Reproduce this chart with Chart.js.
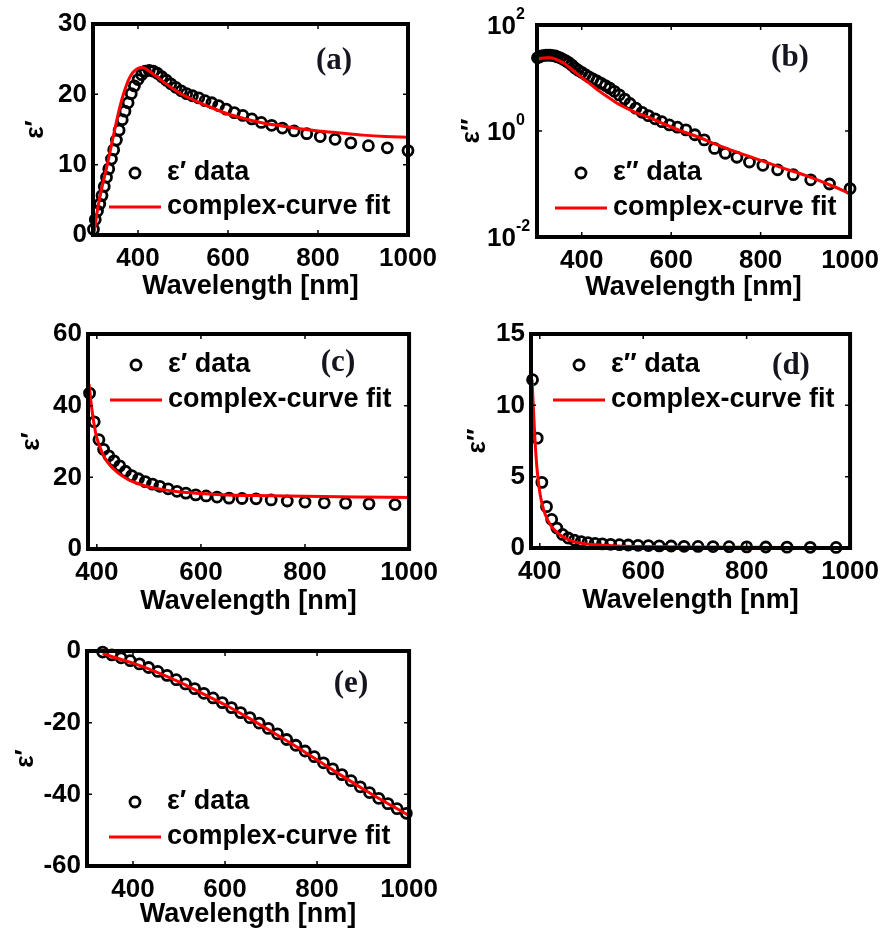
<!DOCTYPE html>
<html>
<head>
<meta charset="utf-8">
<script src="https://cdn.jsdelivr.net/npm/chart.js@4.4.1/dist/chart.umd.min.js"></script>
<style>
  html, body { margin: 0; padding: 0; background: #fff; }
  body { width: 887px; height: 934px; position: relative; overflow: hidden; }
  canvas { position: absolute; }
</style>
</head>
<body>
<canvas id="panel-a" width="446" height="305" style="left:0;top:0"></canvas>
<canvas id="panel-b" width="441" height="305" style="left:446px;top:0"></canvas>
<canvas id="panel-c" width="446" height="320" style="left:0;top:305px"></canvas>
<canvas id="panel-d" width="441" height="320" style="left:446px;top:305px"></canvas>
<canvas id="panel-e" width="446" height="309" style="left:0;top:625px"></canvas>
<script>
// ---- measured permittivity (circles) and fitted curves (red lines) ----

// panels (a) and (b): wavelength grid of the measured data [nm]
const wlAB = [301, 305, 310, 315, 320, 325, 330, 335, 341, 346,
              352, 358, 365, 371, 378, 385, 392, 400, 408, 416,
              425, 434, 443, 453, 463, 473, 484, 496, 508, 521,
              535, 549, 564, 579, 596, 614, 633, 653, 674, 697,
              721, 747, 775, 805, 838, 873, 912, 954, 1000];
const epsRealA = [0.8, 2.2, 3.4, 4.4, 5.6, 6.9, 8.2, 9.4, 10.8, 12.1,
                  13.5, 14.9, 16.4, 17.6, 18.8, 20.1, 21.2, 22.1, 22.8, 23.3,
                  23.4, 23.3, 23.0, 22.5, 22.0, 21.5, 21.0, 20.5, 20.1, 19.8,
                  19.5, 19.1, 18.8, 18.4, 17.9, 17.4, 17.0, 16.5, 16.0, 15.6,
                  15.2, 14.8, 14.4, 14.0, 13.6, 13.1, 12.7, 12.4, 12.0];
const fitWlA = [303, 310, 320, 330, 340, 350, 360, 370, 380, 390, 400, 410, 420, 440, 460,
                480, 500, 530, 560, 600, 640, 680, 720, 760, 800, 850, 900, 950, 1000];
const fitRealA = [0.5, 3.6, 6.8, 9.5, 12.5, 15.5, 18.3, 20.5, 22.2, 23.2, 23.7, 23.8, 23.5, 22.6, 21.6,
                  20.7, 19.9, 19.0, 18.2, 17.2, 16.5, 15.9, 15.5, 15.1, 14.8, 14.5, 14.2, 14.0, 13.9];

const epsImagB = [24, 25, 26, 26.5, 27, 27, 27, 26.5, 26, 25,
                  24, 22.5, 21, 19.5, 17.5, 15.5, 14, 12.8, 11.6, 10.5,
                  9.6, 8.8, 8.0, 7.2, 6.4, 5.6, 4.8, 4.0, 3.3, 2.7,
                  2.25, 1.95, 1.7, 1.5, 1.3, 1.18, 1.05, 0.85, 0.68, 0.47,
                  0.38, 0.32, 0.26, 0.225, 0.185, 0.15, 0.12, 0.1, 0.082];
const fitWlB = [300, 310, 320, 330, 340, 350, 360, 370, 380, 390, 400, 420, 440, 460,
                480, 500, 520, 550, 580, 620, 660, 700, 750, 800, 850, 900, 950, 1000];
const fitImagB = [22.5, 23.5, 24, 24, 23, 21, 19, 16.5, 14, 12, 10.3, 7.6, 5.6, 4.3,
                  3.3, 2.7, 2.25, 1.8, 1.4, 1.02, 0.77, 0.56, 0.39, 0.28, 0.2, 0.145, 0.1, 0.066];

// panels (c) and (d)
const wlCD = [386, 395, 404, 413, 423, 433, 444, 455, 467, 480,
              493, 507, 521, 537, 554, 571, 590, 610, 631, 654,
              679, 706, 735, 766, 800, 837, 878, 923, 973];
const epsRealC = [43.5, 35.5, 30.5, 27.8, 26.0, 24.6, 23.2, 21.7, 20.5, 19.6,
                  18.8, 18.1, 17.5, 16.8, 16.1, 15.6, 15.1, 14.8, 14.5, 14.2,
                  14.1, 14.0, 13.7, 13.4, 13.1, 12.9, 12.8, 12.6, 12.4];
const fitWlC = [385, 390, 395, 400, 410, 420, 440, 460, 480, 500, 530, 560, 600, 650, 700, 800, 900, 1000];
const fitRealC = [46, 39.5, 34.5, 31, 27, 24.3, 21.3, 19.4, 18.2, 17.3, 16.5, 15.9, 15.5, 15.1, 14.9, 14.7, 14.5, 14.4];

const epsImagD = [11.8, 7.7, 4.6, 2.9, 2.0, 1.4, 0.95, 0.7, 0.55, 0.45,
                  0.38, 0.33, 0.29, 0.26, 0.23, 0.21, 0.19, 0.17, 0.15, 0.14,
                  0.12, 0.11, 0.1, 0.09, 0.08, 0.07, 0.06, 0.05, 0.04];
const fitWlD = [385, 390, 395, 400, 405, 410, 420, 430, 445, 460, 480, 500, 550, 600, 700, 800, 900, 1000];
const fitImagD = [11.8, 8.0, 5.4, 3.9, 3.0, 2.4, 1.65, 1.2, 0.78, 0.52, 0.33, 0.24, 0.14, 0.1, 0.07, 0.05, 0.04, 0.03];

// panel (e)
const wlE = [334, 354, 374, 394, 414, 434, 454, 474, 494, 514,
             534, 554, 574, 594, 614, 634, 654, 674, 694, 714,
             734, 754, 774, 794, 814, 834, 854, 874, 894, 914,
             934, 954, 974, 994];
const epsRealE = [-0.3, -1.1, -1.9, -2.7, -3.6, -4.6, -5.7, -6.8, -8.0, -9.2,
                  -10.5, -11.8, -13.1, -14.4, -15.8, -17.2, -18.6, -20.1, -21.6, -23.1,
                  -24.7, -26.3, -27.9, -29.5, -31.2, -32.9, -34.5, -36.2, -37.9, -39.5,
                  -41.1, -42.6, -44.0, -45.3];
const fitWlE = [334, 350, 400, 450, 500, 550, 600, 650, 700, 750, 800, 850, 900, 950, 1000];
const fitRealE = [-0.6, -1.4, -3.4, -5.8, -8.6, -11.8, -15.0, -18.6, -22.4, -26.3, -30.4, -34.5, -38.5, -42.3, -45.9];

// axis ticks
const xTickValues = [400, 600, 800, 1000];
const yTicksA = [0, 10, 20, 30];
const yTicksB = [0.01, 1, 100];
const yTicksC = [0, 20, 40, 60];
const yTicksD = [0, 5, 10, 15];
const yTicksE = [-60, -40, -20, 0];

const LABEL_RE = 'ε′ data';
const LABEL_IM = 'ε″ data';
const LABEL_FIT = 'complex-curve fit';

const SANS = "'Liberation Sans', Arial, Helvetica, sans-serif";
const SERIF = "'Liberation Serif', 'Times New Roman', serif";
const RED = '#ff0000';

Chart.defaults.font.family = SANS;
Chart.defaults.font.weight = 'bold';
Chart.defaults.color = '#000';

const pts = (xs, ys) => xs.map((x, i) => ({ x: x, y: ys[i] }));

// thick box around the plot with short inward ticks on every side
const framePlugin = {
  id: 'frame',
  afterDraw(chart) {
    const { ctx, chartArea: a, scales } = chart;
    const t = 5;
    ctx.save();
    ctx.strokeStyle = '#000';
    ctx.lineWidth = 1.5;
    ctx.beginPath();
    scales.x.ticks.forEach(tk => {
      const px = scales.x.getPixelForValue(tk.value);
      ctx.moveTo(px, a.bottom); ctx.lineTo(px, a.bottom - t);
      ctx.moveTo(px, a.top); ctx.lineTo(px, a.top + t);
    });
    scales.y.ticks.forEach(tk => {
      const py = scales.y.getPixelForValue(tk.value);
      ctx.moveTo(a.left, py); ctx.lineTo(a.left + t, py);
      ctx.moveTo(a.right, py); ctx.lineTo(a.right - t, py);
    });
    ctx.stroke();
    ctx.lineWidth = 4;
    ctx.strokeRect(a.left, a.top, a.right - a.left, a.bottom - a.top);
    ctx.restore();
  }
};

// "10" with a raised exponent for the log axis
const logLabelPlugin = {
  id: 'logLabels',
  afterDraw(chart) {
    const o = chart.options.plugins.logLabels;
    if (!o || !o.enabled) return;
    const { ctx, chartArea: a, scales: { y } } = chart;
    const right = a.left - o.gap;
    ctx.save();
    ctx.fillStyle = '#000';
    ctx.textBaseline = 'middle';
    y.ticks.forEach(tk => {
      const py = y.getPixelForValue(tk.value);
      ctx.font = 'bold 26px ' + SANS;
      ctx.textAlign = 'right';
      ctx.fillText('10', right, py + 2);
      ctx.font = 'bold 16px ' + SANS;
      ctx.textAlign = 'left';
      ctx.fillText(String(Math.round(Math.log10(tk.value))), right, py - 10);
    });
    ctx.restore();
  }
};

// legend placed inside the axes, without a box
const insetLegendPlugin = {
  id: 'insetLegend',
  afterDatasetsDraw(chart) {
    const o = chart.options.plugins.insetLegend;
    const { ctx, chartArea: a } = chart;
    const fit = chart.data.datasets[0];
    const meas = chart.data.datasets[1];
    const x0 = a.left + o.x;
    const y1 = a.top + o.y;
    const y2 = y1 + o.gap;
    ctx.save();
    ctx.strokeStyle = '#000';
    ctx.lineWidth = meas.pointBorderWidth;
    ctx.beginPath();
    ctx.arc(x0 + 26, y1, meas.pointRadius, 0, Math.PI * 2);
    ctx.stroke();
    ctx.strokeStyle = fit.borderColor;
    ctx.lineWidth = fit.borderWidth;
    ctx.beginPath();
    ctx.moveTo(x0, y2); ctx.lineTo(x0 + 52, y2);
    ctx.stroke();
    ctx.fillStyle = '#000';
    ctx.font = 'bold 27px ' + SANS;
    ctx.textAlign = 'left';
    ctx.textBaseline = 'middle';
    ctx.fillText(meas.label, x0 + 58, y1);
    ctx.fillText(fit.label, x0 + 58, y2);
    ctx.restore();
  }
};

// panel letter
const tagPlugin = {
  id: 'panelTag',
  afterDraw(chart) {
    const o = chart.options.plugins.panelTag;
    const { ctx, chartArea: a } = chart;
    ctx.save();
    ctx.fillStyle = '#15151f';
    ctx.font = 'bold 31px ' + SERIF;
    ctx.textAlign = 'center';
    ctx.textBaseline = 'middle';
    ctx.fillText(o.text, a.left + o.x, a.top + o.y);
    ctx.restore();
  }
};

function makePanel(id, p) {
  const canvas = document.getElementById(id);
  const W = canvas.width, H = canvas.height;
  const [left, top, right, bottom] = p.area;
  const xAxisH = H - bottom;
  const xTitleFont = 27;
  const xTitlePad = Math.max(0, xAxisH - p.titleGap - xTitleFont * 0.6);
  const yTitleFont = 26;

  const yScale = {
    type: p.log ? 'logarithmic' : 'linear',
    min: p.yRange[0],
    max: p.yRange[1],
    afterBuildTicks: s => { s.ticks = p.yTicks.map(v => ({ value: v })); },
    afterFit: s => { s.width = left; },
    grid: { display: false, drawTicks: false },
    border: { display: false },
    ticks: {
      font: { size: 26 },
      padding: 6,
      callback: v => (p.log ? '' : String(v))
    },
    title: {
      display: true,
      text: p.yTitle,
      font: { size: yTitleFont },
      padding: { top: p.yTitleX - yTitleFont * 0.6, bottom: 0 }
    }
  };

  return new Chart(canvas, {
    type: 'scatter',
    data: {
      datasets: [
        {
          label: LABEL_FIT,
          data: pts(p.fitX, p.fitY),
          showLine: true,
          borderColor: RED,
          borderWidth: 3,
          pointRadius: 0,
          cubicInterpolationMode: 'monotone',
          order: 0
        },
        {
          label: p.dataLabel,
          data: pts(p.dataX, p.dataY),
          showLine: false,
          pointRadius: 5,
          pointBorderWidth: 2.8,
          pointBorderColor: '#000',
          pointBackgroundColor: 'rgba(0,0,0,0)',
          borderColor: '#000',
          backgroundColor: 'rgba(0,0,0,0)',
          clip: false,
          order: 1
        }
      ]
    },
    options: {
      responsive: false,
      animation: false,
      events: [],
      layout: { padding: { left: 0, top: top, right: W - right, bottom: 0 } },
      plugins: {
        legend: { display: false },
        tooltip: { enabled: false },
        logLabels: { enabled: !!p.log, gap: 21 },
        insetLegend: { x: p.legend[0], y: p.legend[1], gap: p.legend[2] },
        panelTag: { text: p.tag, x: p.tagPos[0], y: p.tagPos[1] }
      },
      scales: {
        x: {
          type: 'linear',
          min: p.xRange[0],
          max: p.xRange[1],
          afterBuildTicks: s => { s.ticks = xTickValues.map(v => ({ value: v })); },
          afterFit: s => { s.height = xAxisH; },
          grid: { display: false, drawTicks: false },
          border: { display: false },
          ticks: {
            font: { size: 26 },
            padding: 8,
            maxRotation: 0,
            autoSkip: false,
            callback: v => String(v)
          },
          title: {
            display: true,
            text: 'Wavelength [nm]',
            font: { size: xTitleFont },
            padding: { top: 0, bottom: xTitlePad }
          }
        },
        y: yScale
      }
    },
    plugins: [framePlugin, logLabelPlugin, insetLegendPlugin, tagPlugin]
  });
}

makePanel('panel-a', {
  area: [93, 24, 408, 235], xRange: [300, 1000], yRange: [0, 30], yTicks: yTicksA,
  yTitle: 'ε′', yTitleX: 36, titleGap: 52,
  dataX: wlAB, dataY: epsRealA, fitX: fitWlA, fitY: fitRealA, dataLabel: LABEL_RE,
  legend: [16, 149, 34], tag: '(a)', tagPos: [241, 37]
});

makePanel('panel-b', {
  area: [91, 25, 406, 237], xRange: [300, 1000], yRange: [0.01, 100], yTicks: yTicksB, log: true,
  yTitle: 'ε″', yTitleX: 26, titleGap: 51,
  dataX: wlAB, dataY: epsImagB, fitX: fitWlB, fitY: fitImagB, dataLabel: LABEL_IM,
  legend: [18, 148, 35], tag: '(b)', tagPos: [253, 33]
});

makePanel('panel-c', {
  area: [88, 29, 411, 244], xRange: [383, 1000], yRange: [0, 60], yTicks: yTicksC,
  yTitle: 'ε′', yTitleX: 32, titleGap: 53,
  dataX: wlCD, dataY: epsRealC, fitX: fitWlC, fitY: fitRealC, dataLabel: LABEL_RE,
  legend: [22, 31, 35], tag: '(c)', tagPos: [250, 29]
});

makePanel('panel-d', {
  area: [85, 29, 407, 243], xRange: [383, 1000], yRange: [0, 15], yTicks: yTicksD,
  yTitle: 'ε″', yTitleX: 32, titleGap: 53,
  dataX: wlCD, dataY: epsImagD, fitX: fitWlD, fitY: fitImagD, dataLabel: LABEL_IM,
  legend: [22, 31, 35], tag: '(d)', tagPos: [260, 32]
});

makePanel('panel-e', {
  area: [87, 26, 410, 241], xRange: [300, 1000], yRange: [-60, 0], yTicks: yTicksE,
  yTitle: 'ε′', yTitleX: 26, titleGap: 49,
  dataX: wlE, dataY: epsRealE, fitX: fitWlE, fitY: fitRealE, dataLabel: LABEL_RE,
  legend: [22, 151, 35], tag: '(e)', tagPos: [264, 33]
});
</script>
</body>
</html>
